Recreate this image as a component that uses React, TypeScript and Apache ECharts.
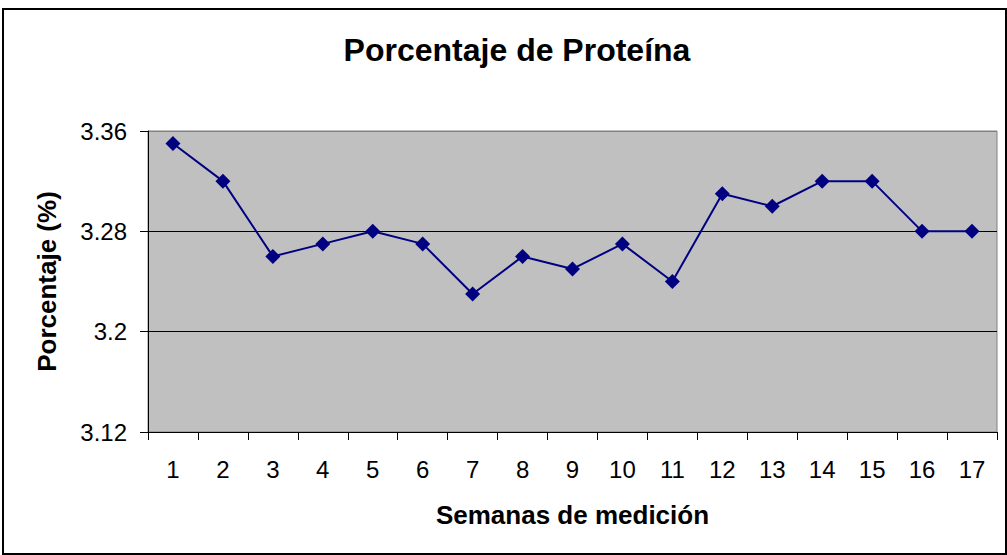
import React, { useEffect, useRef } from "react";
import * as echarts from "echarts";

const weeks = ["1","2","3","4","5","6","7","8","9","10","11","12","13","14","15","16","17"];
const protein = [3.35, 3.32, 3.26, 3.27, 3.28, 3.27, 3.23, 3.26, 3.25, 3.27, 3.24, 3.31, 3.30, 3.32, 3.32, 3.28, 3.28];
const yMin = 3.12;
const yMax = 3.36;
const yStep = 0.08;

export default function App() {
  const ref = useRef<HTMLDivElement>(null);
  useEffect(() => {
    if (!ref.current) return;
    const chart = echarts.init(ref.current, null, { renderer: "svg" });
    const font = "Liberation Sans, Arial, sans-serif";
    chart.setOption({
      animation: false,
      backgroundColor: "#ffffff",
      title: {
        text: "Porcentaje de Proteína",
        left: 512,
        textAlign: "center",
        top: 29,
        textStyle: { fontFamily: font, fontSize: 32, fontWeight: "bold", color: "#000" },
      },
      graphic: [
        {
          type: "rect",
          shape: { x: 3, y: 9, width: 1003, height: 545 },
          style: { fill: "none", stroke: "#000", lineWidth: 2 },
          silent: true,
        },
      ],
      grid: {
        left: 148,
        right: 10,
        top: 131,
        bottom: 123,
        show: true,
        backgroundColor: "#C0C0C0",
        borderColor: "#808080",
        borderWidth: 1,
      },
      xAxis: {
        type: "category",
        data: weeks,
        boundaryGap: true,
        name: "Semanas de medición",
        nameLocation: "middle",
        nameGap: 70,
        nameTextStyle: { fontFamily: font, fontSize: 26, fontWeight: "bold", color: "#000" },
        axisLine: { lineStyle: { color: "#000", width: 1 } },
        axisTick: { show: true, interval: 0, alignWithLabel: false, length: 8, lineStyle: { color: "#000" } },
        axisLabel: { interval: 0, margin: 25, fontFamily: font, fontSize: 24, color: "#000" },
        splitLine: { show: false },
      },
      yAxis: {
        type: "value",
        min: yMin,
        max: yMax,
        interval: yStep,
        name: "Porcentaje (%)",
        nameLocation: "middle",
        nameGap: 88,
        nameTextStyle: { fontFamily: font, fontSize: 26, fontWeight: "bold", color: "#000" },
        axisLine: { show: true, lineStyle: { color: "#000", width: 1 } },
        axisTick: { show: true, length: 8, lineStyle: { color: "#000" } },
        axisLabel: {
          margin: 21,
          fontFamily: font,
          fontSize: 24,
          color: "#000",
          formatter: (v: number) => String(parseFloat(v.toFixed(2))),
        },
        splitLine: { show: true, lineStyle: { color: ["#000", "#000", "#000", "#808080"], width: 1 } },
      },
      series: [
        {
          type: "line",
          data: protein,
          symbol: "diamond",
          symbolSize: 15,
          lineStyle: { color: "#000080", width: 2 },
          itemStyle: { color: "#000080" },
        },
      ],
    });
    return () => chart.dispose();
  }, []);
  return <div ref={ref} style={{ position: "fixed", left: 0, top: 0, width: 1007, height: 555 }} />;
}
